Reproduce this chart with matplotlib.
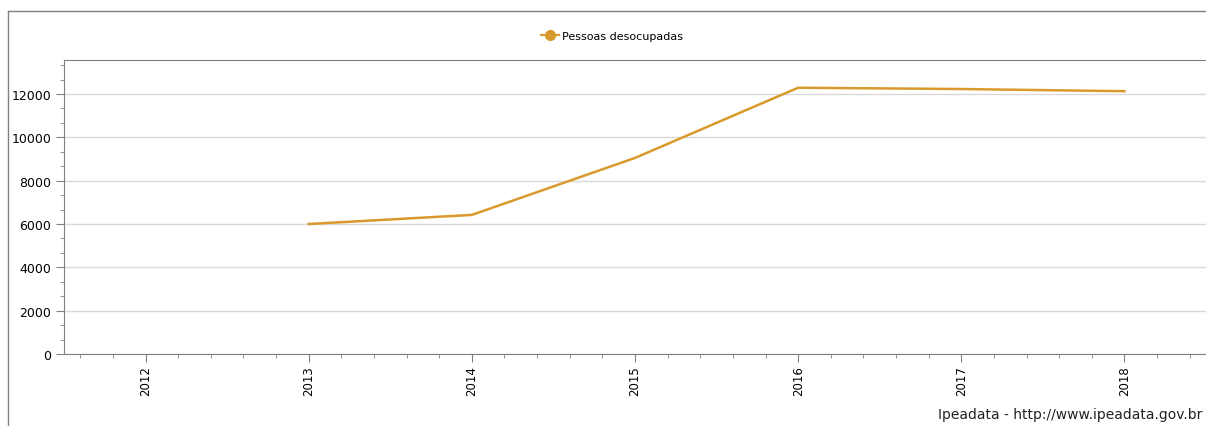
import matplotlib.pyplot as plt
from matplotlib.lines import Line2D
from matplotlib.ticker import MultipleLocator, AutoMinorLocator

anos = [2013, 2014, 2015, 2016, 2017, 2018]
desocupadas = [6000, 6420, 9050, 12290, 12230, 12130]
anos_eixo = [2012, 2013, 2014, 2015, 2016, 2017, 2018]

cor = '#d89a2c'
cinza = '#808080'

W, H = 1206, 427
fig = plt.figure(figsize=(W / 100, H / 100), dpi=100)
plt.rcParams['font.family'] = ['DejaVu Sans']

# moldura externa
fig.add_artist(Line2D([8 / W, 1.0], [1 - 12 / H, 1 - 12 / H], color=cinza, lw=1))
fig.add_artist(Line2D([8 / W, 8 / W], [0, 1 - 12 / H], color=cinza, lw=1))

ax = fig.add_axes([64 / W, 1 - 355 / H, 1 - 64 / W + 0.01, (355 - 61) / H])
ax.plot(anos, desocupadas, color=cor, lw=1.8, label='Pessoas desocupadas')

ax.set_xlim(2011.5, 2018.5 + 0.01 * W / 163)
ax.set_ylim(0, 13570)
ax.set_xticks(anos_eixo)
ax.set_xticklabels([str(a) for a in anos_eixo], rotation=90)
ax.xaxis.set_minor_locator(MultipleLocator(0.2))
ax.yaxis.set_major_locator(MultipleLocator(2000))
ax.yaxis.set_minor_locator(AutoMinorLocator(3))

ax.grid(axis='y', color='#d9d9d9', lw=1)
ax.set_axisbelow(True)
for s in ['left', 'top', 'bottom']:
    ax.spines[s].set_color(cinza)
ax.spines['right'].set_visible(False)
ax.tick_params(axis='both', which='major', length=6, color=cinza, pad=3)
ax.tick_params(axis='both', which='minor', length=3, color=cinza)
ax.tick_params(axis='y', labelsize=9)
ax.tick_params(axis='x', labelsize=8.5, pad=2)

leg_handle = Line2D([], [], color=cor, lw=1.5, marker='o', markersize=7)
fig.legend([leg_handle], ['Pessoas desocupadas'], loc='center',
           bbox_to_anchor=(612 / W, 1 - 37 / H), frameon=False, fontsize=8,
           handlelength=1.6, handletextpad=0.3)

fig.text(938 / W, 1 - 415 / H, 'Ipeadata - http://www.ipeadata.gov.br',
         fontsize=10, ha='left', va='center', color='#222222')

fig.savefig('out.png', dpi=100)
